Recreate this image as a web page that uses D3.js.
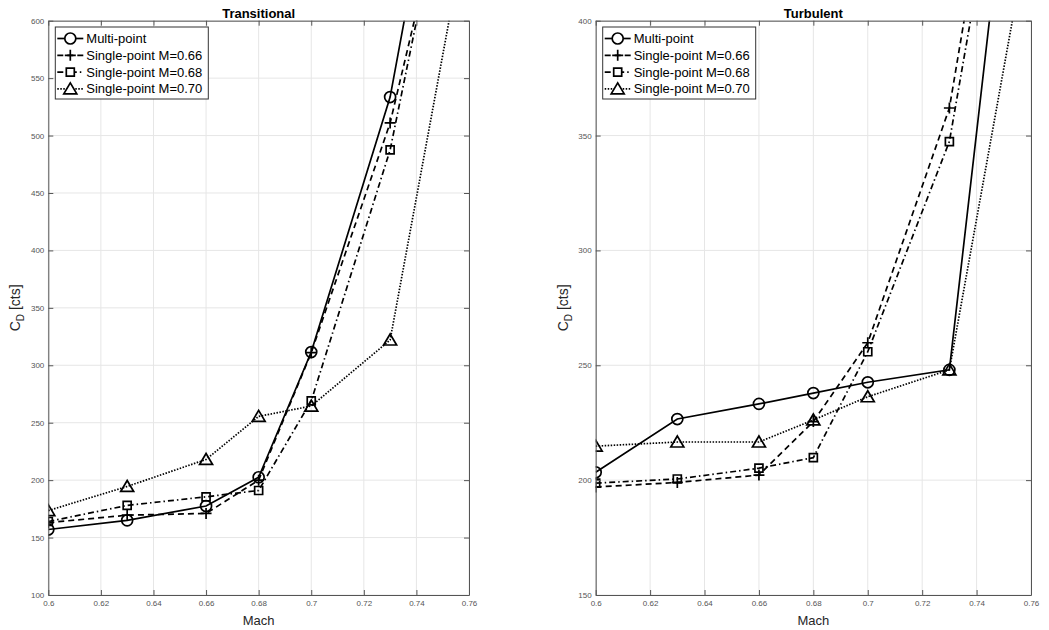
<!DOCTYPE html>
<html><head><meta charset="utf-8">
<script src="https://cdn.jsdelivr.net/npm/d3@7"></script>
<style>body{margin:0;background:#fff;} svg{display:block;font-family:"Liberation Sans",Arial,sans-serif;}</style>
</head><body><svg id="c" width="1049" height="630"></svg>
<script>
// ---- data ----
const mach = [0.6, 0.63, 0.66, 0.68, 0.70, 0.73, 0.76];
const xTicks = [0.6, 0.62, 0.64, 0.66, 0.68, 0.70, 0.72, 0.74, 0.76];
const seriesNames = ["Multi-point", "Single-point M=0.66", "Single-point M=0.68", "Single-point M=0.70"];

const transTitle = "Transitional";
const transYTicks = [100, 150, 200, 250, 300, 350, 400, 450, 500, 550, 600];
const transMulti = [157, 165, 177.5, 202.5, 311.5, 533.5, 905];
const transSP066 = [163, 169.5, 171, 200, 311, 511, 801];
const transSP068 = [164, 178, 185.5, 191, 269, 487.5, 823];
const transSP070 = [173.5, 194.5, 218, 255.5, 264.5, 322, 694];

const turbTitle = "Turbulent";
const turbYTicks = [150, 200, 250, 300, 350, 400];
const turbMulti = [203.4, 226.6, 233.2, 237.9, 242.6, 248, 558];
const turbSP066 = [197, 199, 202.2, 225.5, 259.8, 362, 573];
const turbSP068 = [198.7, 200.5, 205.2, 209.8, 255.9, 347.4, 551];
const turbSP070 = [214.8, 216.6, 216.6, 226.2, 236.3, 248, 445];

// ---- styles ----
const styles = [
  {dash: null, marker: "circle"},
  {dash: "6,4", marker: "plus"},
  {dash: "6,3,1.5,3", marker: "square"},
  {dash: "1.5,1.5", marker: "triangle"}
];

const svg = d3.select("#c");

function markerPath(type) {
  const p = d3.path();
  if (type === "circle") { p.moveTo(5.5, 0); p.arc(0, 0, 5.5, 0, Math.PI * 2); }
  else if (type === "plus") { p.moveTo(-5.5, 0); p.lineTo(5.5, 0); p.moveTo(0, -5.5); p.lineTo(0, 5.5); }
  else if (type === "square") { p.rect(-4, -4, 8, 8); }
  else if (type === "triangle") { p.moveTo(0, -6); p.lineTo(6.5, 5); p.lineTo(-6.5, 5); p.closePath(); }
  return p.toString();
}

function panel(id, cfg) {
  const {x0, x1, y0, y1, yTicks, title, data} = cfg;
  const g = svg.append("g");
  const x = d3.scaleLinear().domain([xTicks[0], xTicks[xTicks.length - 1]]).range([x0, x1]);
  const y = d3.scaleLinear().domain([yTicks[0], yTicks[yTicks.length - 1]]).range([y1, y0]);

  // grid
  g.append("g").selectAll("line.vx").data(xTicks).join("line")
    .attr("x1", d => x(d)).attr("x2", d => x(d)).attr("y1", y0).attr("y2", y1)
    .attr("stroke", "#e6e6e6").attr("stroke-width", 1);
  g.append("g").selectAll("line.hy").data(yTicks).join("line")
    .attr("x1", x0).attr("x2", x1).attr("y1", d => y(d)).attr("y2", d => y(d))
    .attr("stroke", "#e6e6e6").attr("stroke-width", 1);

  // clip
  svg.append("defs").append("clipPath").attr("id", "clip" + id)
    .append("rect").attr("x", x0).attr("y", y0).attr("width", x1 - x0).attr("height", y1 - y0);
  const plot = g.append("g").attr("clip-path", `url(#clip${id})`);

  const line = d3.line().x((d, i) => x(mach[i])).y(d => y(d));
  data.forEach((vals, si) => {
    const st = styles[si];
    plot.append("path").attr("d", line(vals)).attr("fill", "none")
      .attr("stroke", "#000").attr("stroke-width", 1.7)
      .attr("stroke-dasharray", st.dash);
    plot.append("g").selectAll("path").data(vals).join("path")
      .attr("transform", (d, i) => `translate(${x(mach[i])},${y(d)})`)
      .attr("d", markerPath(st.marker))
      .attr("fill", "none").attr("stroke", "#000").attr("stroke-width", 1.7);
  });

  // axes
  const tc = "#555";
  const axB = g.append("g").attr("transform", `translate(0,${y1})`)
    .call(d3.axisBottom(x).tickValues(xTicks).tickFormat(d => d3.format("")(+d.toFixed(2))).tickSizeInner(-5).tickSizeOuter(0).tickPadding(5));
  const axT = g.append("g").attr("transform", `translate(0,${y0})`)
    .call(d3.axisTop(x).tickValues(xTicks).tickFormat("").tickSizeInner(-5).tickSizeOuter(0));
  const axL = g.append("g").attr("transform", `translate(${x0},0)`)
    .call(d3.axisLeft(y).tickValues(yTicks).tickFormat(d3.format("d")).tickSizeInner(-5).tickSizeOuter(0).tickPadding(4));
  const axR = g.append("g").attr("transform", `translate(${x1},0)`)
    .call(d3.axisRight(y).tickValues(yTicks).tickFormat("").tickSizeInner(-5).tickSizeOuter(0));
  [axB, axT, axL, axR].forEach(a => {
    a.select(".domain").attr("stroke", tc).attr("stroke-width", 1);
    a.selectAll(".tick line").attr("stroke", tc);
    a.selectAll("text").attr("fill", "#555").style("font-size", "8px").style("font-family", '"Liberation Sans",Arial,sans-serif');
  });

  // title
  g.append("text").attr("x", (x0 + x1) / 2).attr("y", 17.5).attr("text-anchor", "middle")
    .style("font-size", "13px").style("font-weight", "bold").attr("fill", "#000").text(title);
  // x label
  g.append("text").attr("x", (x0 + x1) / 2).attr("y", 625).attr("text-anchor", "middle")
    .style("font-size", "13px").attr("fill", "#262626").text("Mach");
  // y label
  const yl = g.append("text").attr("transform", `translate(${x0 - 28},${(y0 + y1) / 2}) rotate(-90)`)
    .attr("text-anchor", "middle").style("font-size", "14px").attr("fill", "#262626");
  yl.append("tspan").text("C");
  yl.append("tspan").attr("dy", 4).style("font-size", "10px").text("D");
  yl.append("tspan").attr("dy", -4).text(" [cts]");

  // legend
  const lx = x0 + 7, ly = 27, lw = 153, lh = 72;
  const lg = g.append("g");
  lg.append("rect").attr("x", lx).attr("y", ly).attr("width", lw).attr("height", lh)
    .attr("fill", "#fff").attr("stroke", "#333").attr("stroke-width", 1);
  seriesNames.forEach((name, si) => {
    const st = styles[si];
    const cy = ly + 11.5 + si * 16.8;
    lg.append("line").attr("x1", lx + 2).attr("x2", lx + 28).attr("y1", cy).attr("y2", cy)
      .attr("stroke", "#000").attr("stroke-width", 1.7).attr("stroke-dasharray", st.dash);
    lg.append("path").attr("transform", `translate(${lx + 15},${cy})`).attr("d", markerPath(st.marker))
      .attr("fill", st.marker === "plus" ? "none" : "#fff").attr("stroke", "#000").attr("stroke-width", 1.7);
    lg.append("text").attr("x", lx + 31).attr("y", cy + 4.5).style("font-size", "13px")
      .attr("fill", "#000").text(name);
  });
}

panel("L", {x0: 48.3, x1: 469, y0: 20.7, y1: 595, yTicks: transYTicks, title: transTitle,
  data: [transMulti, transSP066, transSP068, transSP070]});
panel("R", {x0: 595.7, x1: 1031, y0: 20.7, y1: 595, yTicks: turbYTicks, title: turbTitle,
  data: [turbMulti, turbSP066, turbSP068, turbSP070]});
</script>
</body></html>
